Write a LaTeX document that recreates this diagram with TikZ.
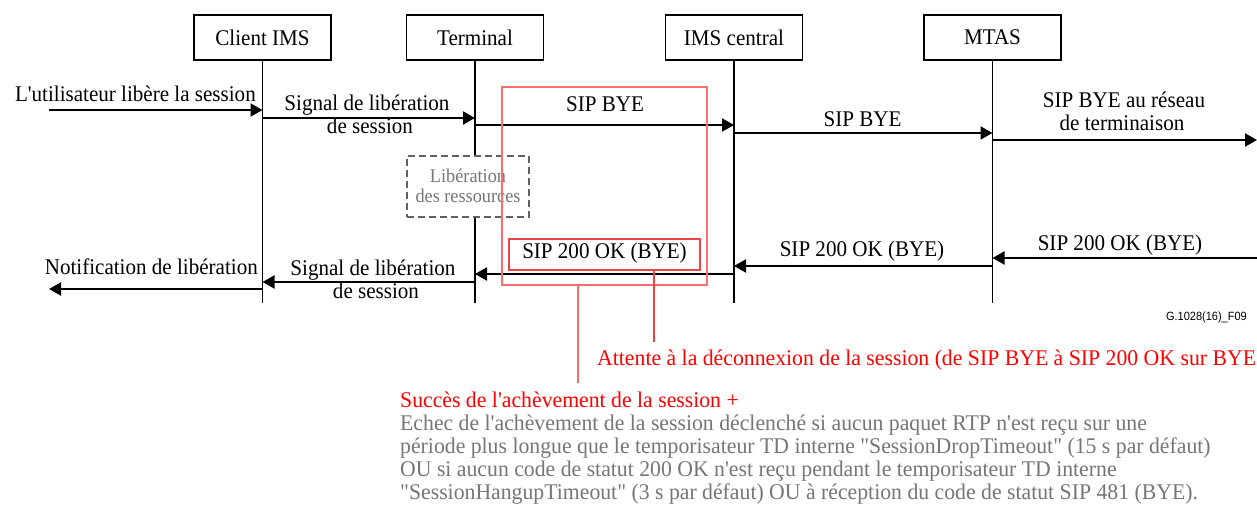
\documentclass[tikz,border=0pt]{standalone}
\usepackage{fontspec}
\setmainfont{Liberation Serif}[Ligatures=TeXOff, FakeStretch=0.94]
\newfontfamily\notefont{Liberation Serif}[Ligatures=TeXOff, FakeStretch=0.97]
\newfontfamily\labelsans{Liberation Sans}[FakeStretch=0.92]
\usetikzlibrary{arrows.meta}
\definecolor{lightred}{RGB}{255,110,110}
\definecolor{midred}{RGB}{235,70,70}
\definecolor{txtgrey}{RGB}{118,118,118}
\tikzset{
  actor/.style={draw, line width=1.1bp, minimum width=137bp, minimum height=45bp, inner sep=0pt, font=\fontsize{22.5}{23.5}\selectfont},
  life/.style={line width=1.1bp},
  msg/.style={line width=2bp, -{Triangle[length=12bp,width=13bp]}},
  lbl/.style={font=\fontsize{22.5}{23.5}\selectfont, inner sep=0pt, anchor=base},
  note/.style={font=\notefont\fontsize{22.5}{23.5}\selectfont, inner sep=0pt, anchor=base west},
}
\begin{document}
\begin{tikzpicture}[x=1bp,y=-1bp]
\clip (0,0) rectangle (1257,506);
\fill[white] (0,0) rectangle (1257,506);
% actors
\node[actor] (cl) at (262.5,37.5) {Client IMS};
\node[actor] (te) at (475,37.5) {Terminal};
\node[actor] (ic) at (734,37.5) {IMS central};
\node[actor] (mt) at (992.5,37.5) {MTAS};
\coordinate (clend) at (262.5,303);
\coordinate (teend) at (475,303);
\coordinate (icend) at (734,303);
\coordinate (mtend) at (992.5,303);
\draw[life] (cl.south) -- (clend);
\draw[life] (te.south) -- (teend);
\draw[life] (ic.south) -- (icend);
\draw[life] (mt.south) -- (mtend);
% resource release box
\node[draw=black!62, dash pattern=on 7bp off 4bp, line width=1.3bp, fill=white, minimum width=122bp, minimum height=61bp, inner sep=0pt] (rr) at (468,186.5) {};
\node[lbl, text=txtgrey, font=\fontsize{19.5}{20.5}\selectfont] (rr1) at (468,182.5) {Libération};
\node[lbl, text=txtgrey, font=\fontsize{19.5}{20.5}\selectfont] (rr2) at (468,203) {des ressources};
% external coordinates
\coordinate (inL) at (49,110);
\coordinate (outL) at (49,289);
\coordinate (outR) at (1257,140);
\coordinate (inR) at (1257,258);
% messages
\draw[msg] (inL) -- (cl |- inL);
\node[lbl, anchor=base east] (l1) at (256,101.5) {L'utilisateur libère la session};
\draw[msg] (cl |- 0,118) -- (te |- 0,118);
\node[lbl] (l2a) at (367,110.5) {Signal de libération};
\node[lbl] (l2b) at (370,134) {de session};
\draw[msg] (te |- 0,125) -- (ic |- 0,125);
\node[lbl] (l3) at (605,112) {SIP BYE};
\draw[msg] (ic |- 0,133) -- (mt |- 0,133);
\node[lbl] (l4) at (862.5,127) {SIP BYE};
\draw[msg] (mt |- outR) -- (outR);
\node[lbl] (l5a) at (1124,107.5) {SIP BYE au réseau};
\node[lbl] (l5b) at (1122,131) {de terminaison};
\draw[msg] (inR) -- (mt |- inR);
\node[lbl] (l6) at (1120,251) {SIP 200 OK (BYE)};
\draw[msg] (mt |- 0,266) -- (ic |- 0,266);
\node[lbl] (l7) at (862,257) {SIP 200 OK (BYE)};
\draw[msg] (ic |- 0,274) -- (te |- 0,274);
\node[draw=midred, line width=1.1bp, minimum width=191bp, minimum height=31bp, inner sep=0pt] (l8box) at (604.5,254.5) {};
\node[lbl] (l8) at (604.5,259) {SIP 200 OK (BYE)};
\draw[msg] (te |- 0,282) -- (cl |- 0,282);
\node[lbl] (l9a) at (373,276) {Signal de libération};
\node[lbl] (l9b) at (376,298.5) {de session};
\draw[msg] (cl |- outL) -- (outL);
\node[lbl, anchor=base east] (l10) at (258,275) {Notification de libération};
% red measurement box
\node[draw=lightred, line width=1.1bp, minimum width=205bp, minimum height=198bp, inner sep=0pt] (big) at (604.5,186) {};
\coordinate (bigdrop) at (578,383);
\coordinate (smalldrop) at (654,342);
\draw[lightred, line width=1.1bp] (big.south -| bigdrop) -- (bigdrop);
\draw[midred, line width=1.1bp] (l8box.south -| smalldrop) -- (smalldrop);
\node[font=\labelsans\fontsize{12}{13}\selectfont, anchor=base east, inner sep=0pt] (fig) at (1247,321) {G.1028(16)\_F09};
\node[note, text=red] (att) at (597,365.5) {Attente à la déconnexion de la session (de SIP BYE à SIP 200 OK sur BYE};
\node[note, text=red] (suc) at (400,407.5) {Succès de l'achèvement de la session +};
\node[note, text=txtgrey] (e1) at (400,430) {Echec de l'achèvement de la session déclenché si aucun paquet RTP n'est reçu sur une};
\node[note, text=txtgrey] (e2) at (400,453.3) {période plus longue que le temporisateur TD interne "SessionDropTimeout" (15 s par défaut)};
\node[note, text=txtgrey] (e3) at (400,476.6) {OU si aucun code de statut 200 OK n'est reçu pendant le temporisateur TD interne};
\node[note, text=txtgrey] (e4) at (400,499.9) {"SessionHangupTimeout" (3 s par défaut) OU à réception du code de statut SIP 481 (BYE).};
\end{tikzpicture}
\end{document}
